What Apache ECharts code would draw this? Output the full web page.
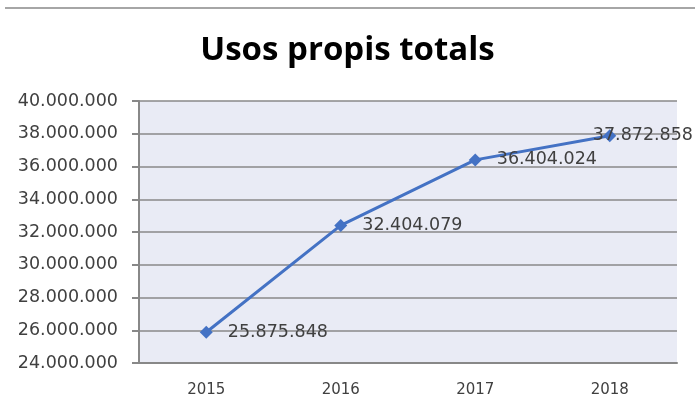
<!DOCTYPE html>
<html><head><meta charset="utf-8">
<script src="https://cdn.jsdelivr.net/npm/echarts@6/dist/echarts.min.js"></script>
<style>html,body{margin:0;padding:0;background:#fff}#c{width:695px;height:411px}</style>
</head><body><div id="c"></div>
<script>
const categories = ['2015','2016','2017','2018'];
const values = [25875848, 32404079, 36404024, 37872858];
const yMin = 24000000, yMax = 40000000, yStep = 2000000;
const titleText = 'Usos propis totals';

function fmt(v){ return String(Math.round(v)).replace(/\B(?=(\d{3})+(?!\d))/g,'.'); }

const chart = echarts.init(document.getElementById('c'), null, {renderer:'canvas'});
chart.setOption({
  animation:false,
  title:{text:titleText,left:'center',top:29,padding:[5,5,5,14],textStyle:{fontFamily:'Open Sans',fontWeight:'bold',fontSize:33,color:'#000'}},
  graphic:[{type:'line',shape:{x1:5,y1:8,x2:695,y2:8},style:{stroke:'#a6a6a6',lineWidth:2}}],
  grid:{left:139,right:18,top:101,bottom:48,show:true,backgroundColor:'#e9ebf5',borderWidth:0},
  xAxis:{type:'category',data:categories,boundaryGap:true,
    axisLine:{show:true,lineStyle:{color:'#888',width:2}},axisTick:{show:false},
    axisLabel:{margin:20,fontFamily:'DejaVu Sans',fontSize:15,color:'#404040'}},
  yAxis:{type:'value',min:yMin,max:yMax,interval:yStep,
    axisLine:{show:true,lineStyle:{color:'#888',width:2}},
    axisTick:{show:true,length:7,lineStyle:{color:'#888',width:2}},
    splitLine:{lineStyle:{color:'#888',width:1.5}},
    axisLabel:{margin:21,fontFamily:'DejaVu Sans',fontSize:17.5,color:'#404040',formatter:fmt,padding:[3,0,0,0]}},
  series:[{type:'line',data:values,symbol:'diamond',symbolSize:13,
    lineStyle:{color:'#4472c4',width:3},itemStyle:{color:'#4472c4'},
    label:{show:true,position:'right',distance:15,offset:[0,3],fontFamily:'DejaVu Sans',fontSize:17.5,color:'#404040',formatter:p=>fmt(p.value)},
    labelLayout:function(p){
      const r = p.labelRect; const limit = 693;
      if (r.x + r.width > limit) return {dx: limit - (r.x + r.width)};
      return {};
    }}]
});
</script></body></html>
